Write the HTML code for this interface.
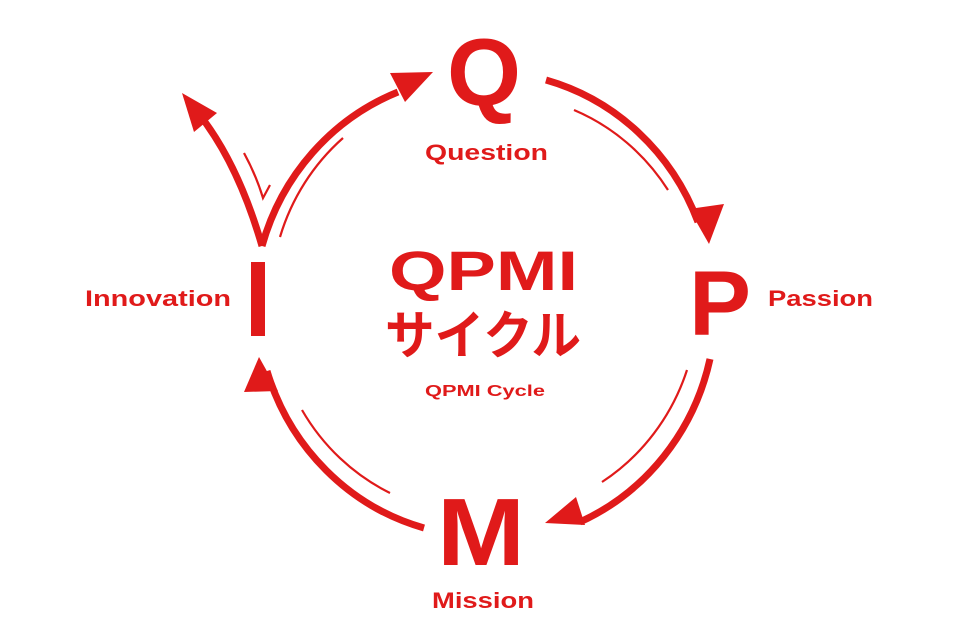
<!DOCTYPE html>
<html><head><meta charset="utf-8"><style>
html,body{margin:0;padding:0;background:#fff;}
svg{display:block}
text{font-family:"Liberation Sans","Noto Sans CJK JP",sans-serif;fill:#e01a1a;font-weight:bold}
</style></head><body>
<svg width="960" height="640" viewBox="0 0 960 640" xmlns="http://www.w3.org/2000/svg">
<g fill="none" stroke="#e01a1a" stroke-width="7">
<path d="M546 80 A228 235 0 0 1 698 222"/>
<path d="M710 359 A228 235 0 0 1 580 522"/>
<path d="M424 528 A228 235 0 0 1 267 371"/>
<path d="M262 246 A228 235 0 0 1 398 92"/>
<path d="M262 246 Q240 170 205 122"/>
</g>
<g fill="none" stroke="#e01a1a" stroke-width="2.2">
<path d="M574 110 A206 213 0 0 1 668 190"/>
<path d="M687 370 A206 213 0 0 1 602 482"/>
<path d="M390 493 A206 213 0 0 1 302 410"/>
<path d="M280 237 A206 213 0 0 1 343 138"/>
<path d="M244 153 Q256 175 263 198 L270 185"/>
</g>
<g fill="#e01a1a">
<polygon points="709,244 689,209 724,204"/>
<polygon points="545,523 576,497 585,525"/>
<polygon points="259,357 244,392 278,391"/>
<polygon points="433,72 390,73 405,102"/>
<polygon points="182,93 217,113 194,132"/>
<rect x="251" y="262" width="14" height="74"/>
</g>
<text x="447" y="105" font-size="96" textLength="74" lengthAdjust="spacingAndGlyphs">Q</text>
<text x="425" y="160" font-size="22" textLength="123" lengthAdjust="spacingAndGlyphs">Question</text>
<text x="689" y="335" font-size="92" textLength="62" lengthAdjust="spacingAndGlyphs">P</text>
<text x="768" y="306" font-size="22" textLength="105" lengthAdjust="spacingAndGlyphs">Passion</text>
<text x="85" y="306" font-size="22" textLength="146" lengthAdjust="spacingAndGlyphs">Innovation</text>
<text x="437" y="565" font-size="96" textLength="88" lengthAdjust="spacingAndGlyphs">M</text>
<text x="432" y="608" font-size="22" textLength="102" lengthAdjust="spacingAndGlyphs">Mission</text>
<text x="389" y="290" font-size="56" textLength="189" lengthAdjust="spacingAndGlyphs">QPMI</text>
<text x="385" y="354" font-size="52" textLength="196" lengthAdjust="spacingAndGlyphs">サイクル</text>
<text x="425" y="396" font-size="16" textLength="120" lengthAdjust="spacingAndGlyphs">QPMI Cycle</text>
</svg>
</body></html>
